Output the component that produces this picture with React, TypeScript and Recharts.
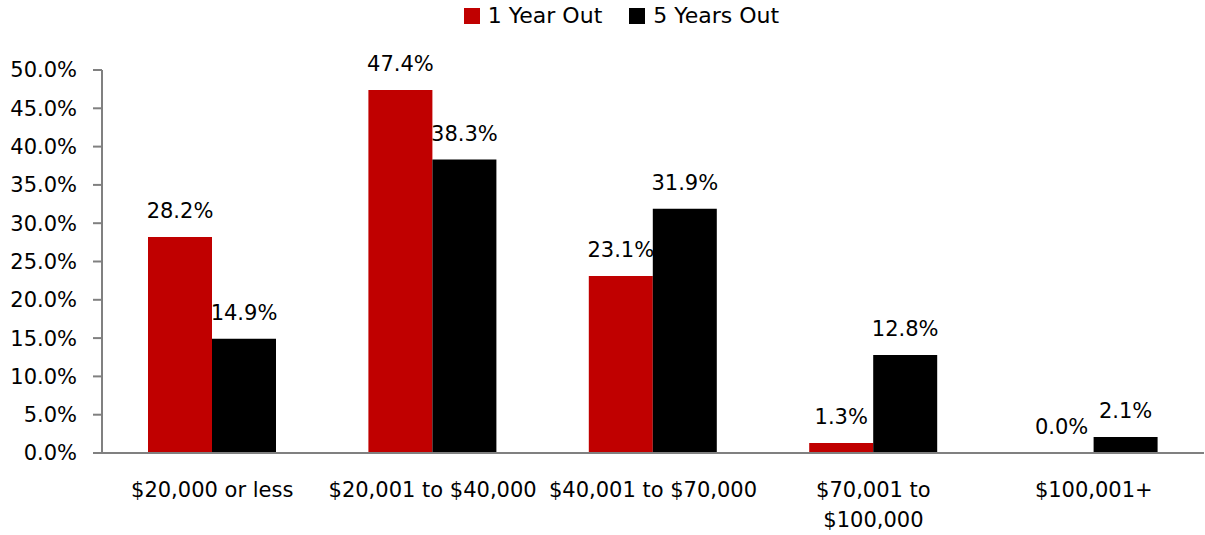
import React from 'react';
import { BarChart, Bar, XAxis, YAxis, Legend, LabelList } from 'recharts';

const categories = ['$20,000 or less', '$20,001 to $40,000', '$40,001 to $70,000', '$70,001 to\n$100,000', '$100,001+'];
const oneYear = [28.2, 47.4, 23.1, 1.3, 0.0];
const fiveYears = [14.9, 38.3, 31.9, 12.8, 2.1];
const yTicks = [0, 5, 10, 15, 20, 25, 30, 35, 40, 45, 50];

const RED = '#C00000';
const FONT = '"DejaVu Sans", sans-serif';
const FS = 21;

const data = categories.map((c, i) => ({ name: c, one: oneYear[i], five: fiveYears[i] }));

const pct = (v: any) => `${Number(v).toFixed(1)}%`;

// keep zero-valued bars in the layout so their labels still get drawn
const keepZero = (v: any) => (Number(v) === 0 ? 0.01 : 0);

function CategoryTick({ x, y, payload }: any) {
  const lines = String(payload.value).split('\n');
  return (
    <text x={x} y={y} textAnchor="middle" fontFamily={FONT} fontSize={FS} fill="#000">
      {lines.map((l, i) => (
        <tspan key={i} x={x} dy={i === 0 ? 36 : 30}>{l}</tspan>
      ))}
    </text>
  );
}

function ValueLabel({ x, y, width, value }: any) {
  return (
    <text x={x + width / 2} y={y - 19} textAnchor="middle" fontFamily={FONT} fontSize={FS} fill="#000">
      {pct(value)}
    </text>
  );
}

function LegendBox() {
  const items = [
    { label: '1 Year Out', color: RED },
    { label: '5 Years Out', color: '#000' },
  ];
  return (
    <div style={{ display: 'flex', justifyContent: 'center', fontFamily: FONT, fontSize: 22, color: '#000', lineHeight: '24px' }}>
      {items.map((it, i) => (
        <div key={it.label} style={{ display: 'flex', alignItems: 'center', marginLeft: i === 0 ? 0 : 27 }}>
          <span style={{ width: 16, height: 16, background: it.color, marginRight: 8, display: 'inline-block' }} />
          <span>{it.label}</span>
        </div>
      ))}
    </div>
  );
}

export default function App() {
  return (
    <div style={{ position: 'absolute', left: 0, top: 0, background: '#fff' }}>
      <BarChart
        width={1205}
        height={535}
        data={data}
        margin={{ top: 46, right: 1, bottom: 0, left: 0 }}
        barCategoryGap={46}
        barGap={0}
      >
        <Legend verticalAlign="top" content={<LegendBox />} wrapperStyle={{ top: 4, left: 19, width: 1205 }} />
        <XAxis
          dataKey="name"
          height={82}
          tickLine={false}
          axisLine={{ stroke: '#808080', strokeWidth: 2 }}
          tick={<CategoryTick />}
          interval={0}
        />
        <YAxis
          width={102}
          domain={[0, 50]}
          ticks={yTicks}
          tickFormatter={pct}
          tickSize={9}
          tickMargin={16}
          axisLine={{ stroke: '#808080', strokeWidth: 2 }}
          tickLine={{ stroke: '#808080', strokeWidth: 2 }}
          tick={{ fill: '#000', fontSize: FS, fontFamily: FONT }}
        />
        <Bar dataKey="one" fill={RED} isAnimationActive={false} minPointSize={keepZero}>
          <LabelList dataKey="one" content={<ValueLabel />} />
        </Bar>
        <Bar dataKey="five" fill="#000" isAnimationActive={false} minPointSize={keepZero}>
          <LabelList dataKey="five" content={<ValueLabel />} />
        </Bar>
      </BarChart>
    </div>
  );
}
